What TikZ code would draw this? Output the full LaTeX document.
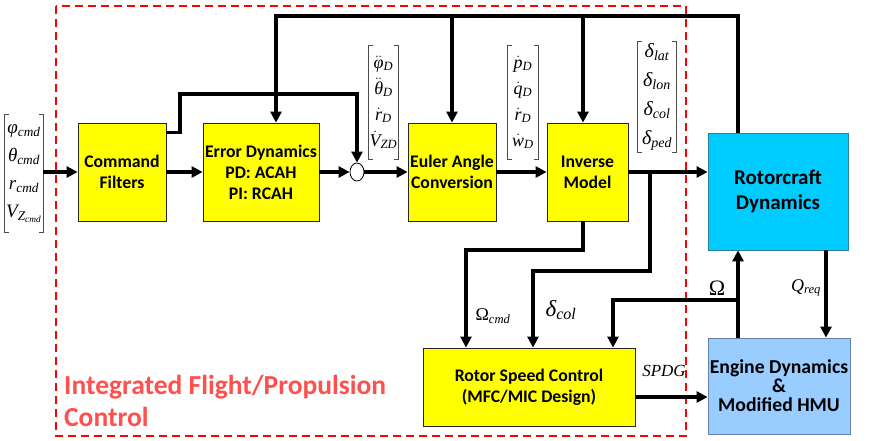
\documentclass[tikz,border=0pt]{standalone}
\usepackage{fontspec}
\setmainfont{Carlito}
\newfontfamily\tms{Liberation Serif}
\usetikzlibrary{arrows.meta,shapes.geometric,calc}
\definecolor{boxyellow}{RGB}{255,255,0}
\definecolor{rcblue}{RGB}{0,204,255}
\definecolor{rcedge}{RGB}{40,130,160}
\definecolor{engblue}{RGB}{153,204,255}
\definecolor{engedge}{RGB}{100,130,170}
\definecolor{redline}{RGB}{255,0,0}
\definecolor{redtext}{RGB}{255,80,80}
\newcommand\mi[1]{{\tms\itshape #1}}
\newcommand\sbs[1]{\textsubscript{\tms\itshape #1}}
\newcommand\dotv[1]{$\dot{\hbox{\tms\itshape #1}}$}
\newcommand\ddotv[1]{$\ddot{\hbox{\tms\itshape #1}}$}
\newcommand\tightlines{\lineskiplimit=-20pt\relax}
\newcommand\mybrk[1]{%
  \draw[brk] ($(#1.north west)+(4,0)$) -- (#1.north west) -- (#1.south west) -- ++(4,0);
  \draw[brk] ($(#1.north east)+(-4,0)$) -- (#1.north east) -- (#1.south east) -- ++(-4,0);}
\tikzset{
  blk/.style={draw=black!85, line width=0.8pt, fill=boxyellow, align=center,
    font=\bfseries\fontsize{17.7}{21}\selectfont, inner sep=0pt},
  bigblk/.style={blk, font=\bfseries\fontsize{21}{25}\selectfont},
  conn/.style={line width=3.2pt, -{Triangle[length=11pt,width=11pt]}},
  brk/.style={draw=black!70, line width=0.8pt},
  vecn/.style={inner sep=0pt, align=center},
  lbl/.style={inner sep=0pt}
}
\begin{document}
\begin{tikzpicture}[x=1pt,y=-1pt]
\useasboundingbox (0,0) rectangle (870,440);
% integration frame
\draw[redline, line width=2pt, dash pattern=on 8pt off 5pt] (56,6) rectangle (686,436);
\node[lbl, anchor=north west, align=left, text=redtext, font=\bfseries\fontsize{27.5}{32}\selectfont] (title) at (64,375)
  {Integrated Flight/Propulsion\\Control};
% blocks
\node[blk, minimum width=88, minimum height=98] (cf) at (122,172) {Command\\Filters};
\node[blk, minimum width=116, minimum height=98] (ed) at (261,172) {Error Dynamics\\PD: ACAH\\PI: RCAH};
\node[draw=black, line width=0.8pt, fill=white, ellipse, minimum width=14, minimum height=18, inner sep=0pt] (sum) at (357,172) {};
\node[blk, minimum width=88, minimum height=98] (eu) at (452,172) {Euler Angle\\Conversion};
\node[blk, minimum width=81, minimum height=98] (inv) at (587.5,172) {Inverse\\Model};
\node[bigblk, fill=rcblue, draw=rcedge, minimum width=140, minimum height=117] (rc) at (778,191.5) {Rotorcraft\\Dynamics};
\node[bigblk, fill=engblue, draw=engedge, minimum width=142, minimum height=96, font=\bfseries\fontsize{19.7}{19}\selectfont] (eng) at (779,386) {Engine Dynamics\\\&\\Modified HMU};
\node[blk, minimum width=212, minimum height=78] (rsc) at (529,387) {Rotor Speed Control\\(MFC/MIC Design)};
% vectors
\node[vecn, minimum width=38, minimum height=117, font=\fontsize{19}{28}\selectfont\tightlines] (invec) at (24,173.5)
  {\mi{φ}\sbs{cmd}\\\mi{θ}\sbs{cmd}\\\mi{r}\sbs{cmd}\\\mi{V}\textsubscript{\tms\itshape Z\textsubscript{cmd}}};
\mybrk{invec}
\node[vecn, minimum width=29, minimum height=113, font=\fontsize{18}{26}\selectfont\tightlines] (va) at (383.5,102.5)
  {\ddotv{φ}\sbs{D}\\\ddotv{θ}\sbs{D}\\\dotv{r}\sbs{D}\\\dotv{V}\sbs{ZD}};
\mybrk{va}
\node[vecn, minimum width=30, minimum height=113, font=\fontsize{18}{26}\selectfont\tightlines] (vb) at (523,102.5)
  {\dotv{p}\sbs{D}\\\dotv{q}\sbs{D}\\\dotv{r}\sbs{D}\\\dotv{w}\sbs{D}};
\mybrk{vb}
\node[vecn, minimum width=38, minimum height=110, font=\fontsize{20}{29}\selectfont\tightlines] (vc) at (657,97)
  {\mi{δ}\sbs{lat}\\\mi{δ}\sbs{lon}\\\mi{δ}\sbs{col}\\\mi{δ}\sbs{ped}};
\mybrk{vc}
% coordinates
\coordinate (t1) at (738,16);
\coordinate (t2) at (276,16);
\coordinate (t3) at (583,16);
\coordinate (b1) at (180,94);
\coordinate (om) at (466,250);
\coordinate (br) at (650,172);
\coordinate (dc) at (533,271);
\coordinate (ob) at (738,300);
\coordinate (oc) at (613,300);
\coordinate (qx) at (826,300);
% connectors
\draw[conn] (invec.east |- cf.west) -- (cf.west);
\draw[conn] (cf.east) -- (ed.west);
\draw[conn] ($(cf.north east)+(0,10)$) -| (b1) -| (sum.north);
\draw[conn] (ed.east) -- (sum.west);
\draw[conn] (sum.east) -- (eu.west);
\draw[conn] (eu.east) -- (inv.west);
\draw[conn] (inv.east) -- (rc.west |- inv.east);
\draw[conn] (rc.north -| t1) -- (t1) -- (t2) -- (t2 |- ed.north);
\draw[conn] (eu.north |- t1) -- (eu.north);
\draw[conn] (t3) -- (t3 |- inv.north);
\draw[conn] (t3 |- inv.south) |- (om) -- (om |- rsc.north);
\draw[conn] (br) |- (dc) -- (dc |- rsc.north);
\draw[conn] (eng.north -| t1) -- (rc.south -| t1);
\draw[conn] (ob) -- (oc) -- (oc |- rsc.north);
\draw[conn] (rc.south -| qx) -- (eng.north -| qx);
\draw[conn] ($(rsc.east)+(0,10)$) -- ($(eng.west)+(0,11)$);
% labels
\node[lbl, font=\fontsize{18}{18}\selectfont] (lom) at (493,316) {{\tms Ω}\sbs{cmd}};
\node[lbl, font=\fontsize{23}{23}\selectfont] (ldc) at (561,310) {\mi{δ}\sbs{col}};
\node[lbl, font=\fontsize{22}{22}\selectfont] (lo) at (717,288) {{\tms Ω}};
\node[lbl, font=\fontsize{18}{18}\selectfont] (lq) at (806,288) {\mi{Q}\sbs{req}};
\node[lbl, font=\fontsize{17}{17}\selectfont] (ls) at (664,371) {\mi{SPDG}};
\end{tikzpicture}
\end{document}
